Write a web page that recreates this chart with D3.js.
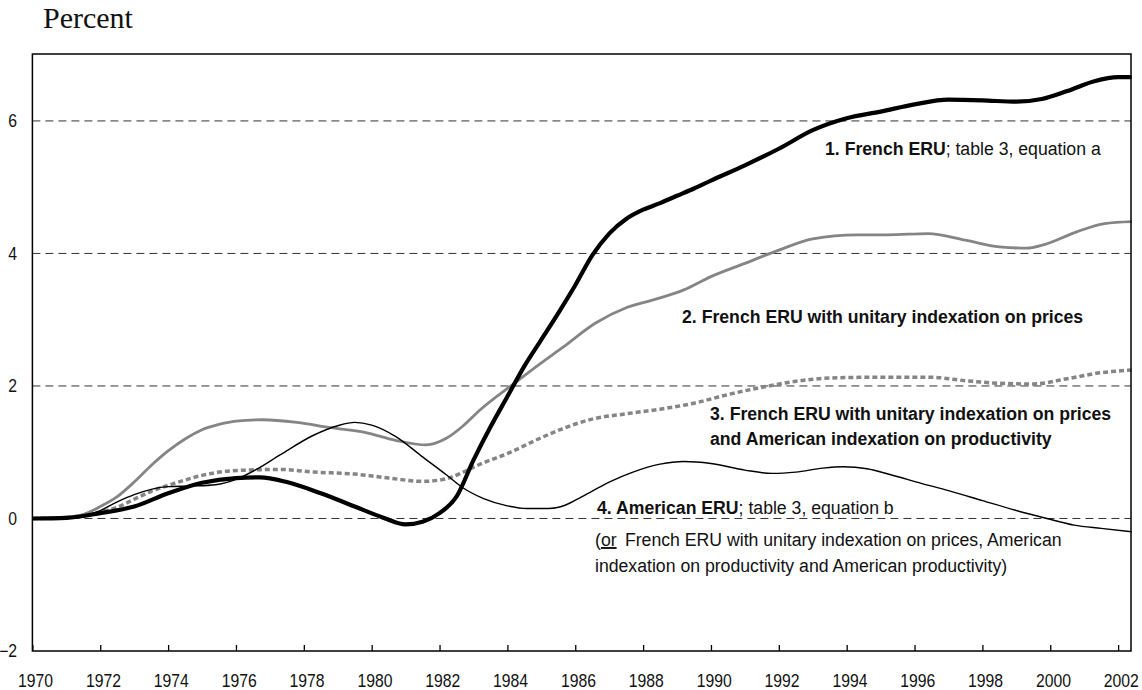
<!DOCTYPE html>
<html>
<head>
<meta charset="utf-8">
<script src="https://cdn.jsdelivr.net/npm/d3@7"></script>
<style>
  body { margin: 0; background: #fff; }
  svg text { font-family: "Liberation Sans", Arial, sans-serif; fill: #111; }
</style>
</head>
<body>
<svg id="chart" width="1142" height="690"></svg>
<script>
// values, [year, percent]
var frenchEru = [
  [1970, 0], [1971, 0.01], [1972, 0.08], [1973, 0.18], [1974, 0.38], [1975, 0.54],
  [1976, 0.61], [1976.7, 0.62], [1977.5, 0.55], [1978.5, 0.38], [1979.5, 0.18],
  [1980.3, 0.02], [1981, -0.09], [1981.5, -0.05], [1982, 0.08], [1982.5, 0.33],
  [1983, 0.88], [1983.5, 1.38], [1984, 1.84], [1984.5, 2.3], [1985, 2.7], [1985.5, 3.1],
  [1986, 3.52], [1986.5, 3.97], [1987, 4.3], [1987.5, 4.52], [1988, 4.66], [1988.5, 4.76],
  [1989, 4.87], [1989.5, 4.98], [1990, 5.1], [1991, 5.33], [1992, 5.58], [1993, 5.86],
  [1994, 6.04], [1995, 6.14], [1996, 6.25], [1997, 6.32], [1998, 6.31], [1999, 6.29],
  [1999.75, 6.33], [2000.5, 6.45], [2001.3, 6.6], [2002, 6.66], [2002.4, 6.66]
];

var unitaryPrices = [
  [1970, 0], [1971, 0.02], [1971.5, 0.06], [1972, 0.18], [1972.5, 0.33], [1973, 0.55],
  [1973.5, 0.8], [1974, 1.02], [1974.5, 1.2], [1975, 1.34], [1975.5, 1.42], [1976, 1.47],
  [1976.8, 1.49], [1977.8, 1.45], [1978.8, 1.37], [1979.8, 1.3], [1980.7, 1.18],
  [1981.6, 1.11], [1982.2, 1.21], [1982.7, 1.4], [1983.2, 1.64], [1984.1, 2.0],
  [1985, 2.35], [1985.6, 2.57], [1986.6, 2.95], [1987.5, 3.18], [1988.3, 3.3],
  [1989.2, 3.45], [1990, 3.65], [1991, 3.85], [1992, 4.05], [1993, 4.22], [1994.3, 4.28],
  [1995.2, 4.28], [1996.4, 4.3], [1997.5, 4.2], [1998.5, 4.1], [1999.3, 4.08],
  [1999.8, 4.13], [2000.8, 4.33], [2001.6, 4.45], [2002.4, 4.48]
];

var americanProductivity = [
  [1970, 0], [1971, 0.01], [1971.5, 0.05], [1972, 0.1], [1972.5, 0.17], [1973, 0.29],
  [1973.5, 0.41], [1974, 0.5], [1974.5, 0.58], [1975, 0.65], [1975.5, 0.7], [1976.3, 0.73],
  [1977.3, 0.74], [1978.3, 0.7], [1979.5, 0.67], [1980.5, 0.61], [1981.5, 0.56],
  [1982.2, 0.6], [1982.7, 0.7], [1983.2, 0.82], [1984, 0.98], [1985, 1.22], [1985.6, 1.35],
  [1986.5, 1.5], [1987.5, 1.58], [1988.5, 1.65], [1989.5, 1.74], [1990.5, 1.87],
  [1991.5, 1.98], [1992.5, 2.07], [1993.5, 2.12], [1994.5, 2.13], [1995.5, 2.13],
  [1996.5, 2.13], [1997.5, 2.08], [1998.5, 2.04], [1999.5, 2.03], [2000.5, 2.11],
  [2001.5, 2.2], [2002.4, 2.24]
];

var americanEru = [
  [1970, 0], [1971, 0.01], [1971.5, 0.04], [1972, 0.12], [1972.5, 0.25], [1973, 0.36],
  [1973.5, 0.44], [1974, 0.48], [1974.7, 0.49], [1975.4, 0.51], [1976, 0.59], [1976.6, 0.74],
  [1977.3, 0.96], [1978.3, 1.26], [1979, 1.4], [1979.5, 1.45], [1980, 1.41], [1980.7, 1.24],
  [1981.5, 0.93], [1982.2, 0.66], [1982.7, 0.46], [1983.3, 0.3], [1984, 0.19], [1984.6, 0.15],
  [1985.2, 0.15], [1985.7, 0.2], [1986.2, 0.33], [1987, 0.55], [1987.7, 0.7], [1988.5, 0.82],
  [1989.2, 0.86], [1990, 0.83], [1991, 0.73], [1991.8, 0.68], [1992.5, 0.7], [1993.3, 0.76],
  [1993.9, 0.78], [1994.6, 0.75], [1995.3, 0.66], [1996.2, 0.53], [1997, 0.42], [1998, 0.27],
  [1999, 0.12], [1999.9, 0.0], [2000.7, -0.1], [2001.5, -0.15], [2002.4, -0.2]
];

var xTickYears = [1970, 1972, 1974, 1976, 1978, 1980, 1982, 1984, 1986, 1988,
                  1990, 1992, 1994, 1996, 1998, 2000, 2002];
var yTickValues = [-2, 0, 2, 4, 6];
var gridValues = [0, 2, 4, 6];

var svg = d3.select("svg#chart"),
    margin = {top: 54, right: 11, bottom: 39, left: 32.4},
    width = +svg.attr("width") - margin.left - margin.right,
    height = +svg.attr("height") - margin.top - margin.bottom,
    g = svg.append("g").attr("transform", "translate(" + margin.left + "," + margin.top + ")");

// the original uses a condensed sans: squeeze Arial-metric text horizontally
var axisNarrow = "scale(0.9,1)",
    labelNarrow = "scale(0.93,1)";

var x = d3.scaleLinear()
    .domain([1970, 2002.38])
    .range([0, width]);

var y = d3.scaleLinear()
    .domain([-2, 7.01])
    .range([height, 0]);

// title
svg.append("text")
    .attr("x", 43)
    .attr("y", 27.5)
    .style("font-family", "'Liberation Serif', 'Times New Roman', serif")
    .style("font-size", "30px")
    .text("Percent");

// dashed grid lines
g.append("g")
  .selectAll("line")
  .data(gridValues)
  .enter().append("line")
    .attr("x1", 0)
    .attr("x2", width)
    .attr("y1", function(d) { return y(d); })
    .attr("y2", function(d) { return y(d); })
    .attr("stroke", "#333")
    .attr("stroke-width", 1)
    .attr("stroke-dasharray", "8,5");

// x axis: inward ticks, labels below
var xAxis = g.append("g")
    .attr("transform", "translate(0," + height + ")")
    .call(d3.axisBottom(x).tickValues(xTickYears).tickFormat(d3.format("d")).tickSizeInner(-6).tickSizeOuter(0).tickPadding(0));
xAxis.select(".domain").remove();
xAxis.selectAll("line").attr("stroke", "#000").attr("stroke-width", 1.3);
xAxis.selectAll("text")
    .attr("y", 36)
    .attr("dy", 0)
    .attr("dx", 3)
    .attr("transform", axisNarrow)
    .attr("fill", "#111")
    .style("font-size", "17.5px");

// y axis labels
var yAxis = g.append("g")
    .call(d3.axisLeft(y).tickValues(yTickValues).tickSize(0).tickPadding(17));
yAxis.select(".domain").remove();
yAxis.selectAll("text")
    .attr("transform", axisNarrow)
    .attr("fill", "#111")
    .style("font-size", "17.5px");

// series
var line = d3.line()
    .curve(d3.curveMonotoneX)
    .x(function(d) { return x(d[0]); })
    .y(function(d) { return y(d[1]); });

g.append("path").datum(americanProductivity)
    .attr("fill", "none").attr("stroke", "#858585").attr("stroke-width", 3.5)
    .attr("stroke-dasharray", "5,3")
    .attr("d", line);

g.append("path").datum(unitaryPrices)
    .attr("fill", "none").attr("stroke", "#858585").attr("stroke-width", 2.8)
    .attr("d", line);

g.append("path").datum(americanEru)
    .attr("fill", "none").attr("stroke", "#000").attr("stroke-width", 1.4)
    .attr("d", line);

g.append("path").datum(frenchEru)
    .attr("fill", "none").attr("stroke", "#000").attr("stroke-width", 4.2)
    .attr("stroke-linejoin", "round")
    .attr("d", line);

// frame
g.append("rect")
    .attr("width", width)
    .attr("height", height)
    .attr("fill", "none")
    .attr("stroke", "#000")
    .attr("stroke-width", 1.5);

// series labels
var labels = svg.append("g").style("font-size", "19px");

function label(px, py) {
  return labels.append("text")
      .attr("transform", "translate(" + px + "," + py + ") " + labelNarrow);
}

var t1 = label(825, 155);
t1.append("tspan").style("font-weight", "bold").text("1. French ERU");
t1.append("tspan").text("; table 3, equation a");

label(682, 323)
    .style("font-weight", "bold")
    .text("2. French ERU with unitary indexation on prices");

label(710, 420)
    .style("font-weight", "bold")
    .text("3. French ERU with unitary indexation on prices");
label(710, 445)
    .style("font-weight", "bold")
    .text("and American indexation on productivity");

var t4 = label(597, 514);
t4.append("tspan").style("font-weight", "bold").text("4. American ERU");
t4.append("tspan").text("; table 3, equation b");

var t5 = label(595, 546);
t5.append("tspan").text("(");
t5.append("tspan").style("text-decoration", "underline").text("or");
t5.append("tspan").attr("dx", 9).text("French ERU with unitary indexation on prices, American");

label(595, 572)
    .text("indexation on productivity and American productivity)");
</script>
</body>
</html>
